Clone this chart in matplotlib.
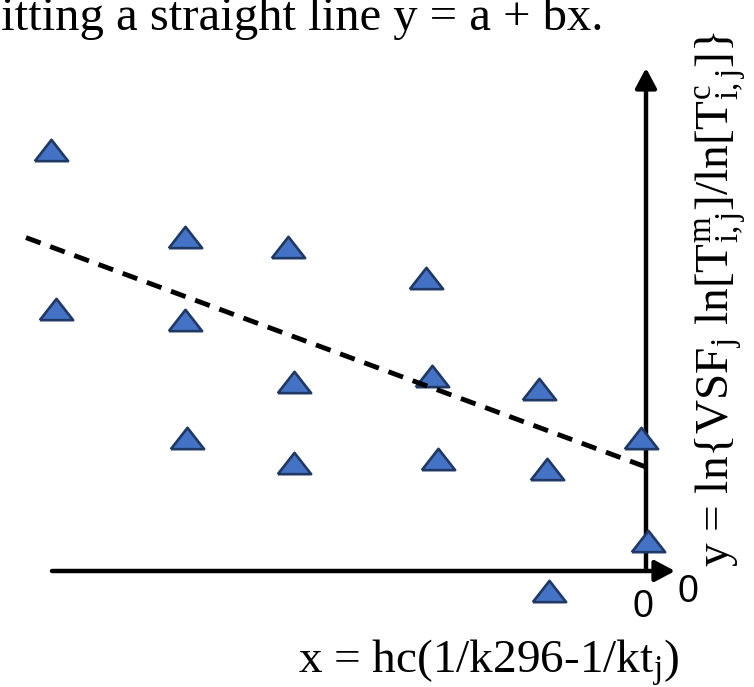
import matplotlib
matplotlib.use('Agg')
import matplotlib.pyplot as plt
import numpy as np

# ---- data (schematic units; origin at axis crossing) ----
x_vals = [-5.95, -4.61, -3.58, -2.20, -5.90, -4.61, -3.52, -2.14, -1.07,
          -4.59, -3.52, -2.08, -0.99, -0.05, 0.02, -0.97]
y_vals = [4.21, 3.34, 3.24, 2.93, 2.62, 2.51, 1.89, 1.95, 1.82,
          1.33, 1.08, 1.12, 1.02, 1.33, 0.30, -0.20]

fit_a = 1.04          # intercept
fit_b = -0.37         # slope
fit_x = [-6.20, 0.0]  # extent of fitted line

x_axis_span = [-5.94, 0.29]
y_axis_span = [0.0, 5.03]

title_text = "Fitting a straight line y = a + bx."
xlabel_text = r"x = hc(1/k296-1/kt$_\mathrm{j}$)"
ylabel_text = r"y = ln{VSF$_\mathrm{j}$ ln[T$^\mathrm{m}_\mathrm{i,j}$]/ln[T$^\mathrm{c}_\mathrm{i,j}$]}"
zero_labels = ["0", "0"]

# ---- style ----
plt.rcParams['font.family'] = ['Liberation Serif', 'DejaVu Serif']
plt.rcParams['mathtext.fontset'] = 'custom'
plt.rcParams['mathtext.rm'] = 'Liberation Serif'
plt.rcParams['mathtext.it'] = 'Liberation Serif:italic'
plt.rcParams['mathtext.bf'] = 'Liberation Serif:bold'

W, H = 754, 687
fig = plt.figure(figsize=(W / 100, H / 100), dpi=100)
ax = fig.add_axes([0, 0, 1, 1])
ax.set_xlim(-6.46, 1.08)
ax.set_ylim(-1.16, 5.71)
ax.axis('off')

arrow_kw = dict(arrowstyle='-|>,head_length=0.6,head_width=0.32',
                lw=3.2, color='black', shrinkA=0, shrinkB=0,
                mutation_scale=20)
ax.annotate('', xy=(x_axis_span[1], 0), xytext=(x_axis_span[0], 0),
            arrowprops=arrow_kw, zorder=2)
ax.annotate('', xy=(0, y_axis_span[1]), xytext=(0, y_axis_span[0]),
            arrowprops=arrow_kw, zorder=2)

# data points (flattened triangles)
tri = [(-1, -0.64), (1, -0.64), (0, 0.64), (-1, -0.64)]
ax.plot(x_vals, y_vals, ls='none', marker=tri, markersize=24,
        markerfacecolor='#4472C4', markeredgecolor='#1F3864',
        markeredgewidth=1.9, zorder=3)

# fitted line
fx = np.array(fit_x)
ax.plot(fx, fit_a + fit_b * fx, color='black', lw=3.5,
        ls=(0, (3.2, 2.1)), dash_capstyle='butt', zorder=4)

# texts
def px(x, y):
    return x / W, 1 - y / H

fig.text(*px(603, 30), title_text, fontsize=35, ha='right', va='baseline')
fig.text(*px(298, 673), xlabel_text, fontsize=34, ha='left', va='baseline')
fig.text(*px(721, 567), ylabel_text, fontsize=34, rotation=90,
         ha='center', va='bottom')
fig.text(*px(643, 617), zero_labels[0], fontsize=27, family='Liberation Sans',
         ha='center', va='baseline')
fig.text(*px(688, 602), zero_labels[1], fontsize=27, family='Liberation Sans',
         ha='center', va='baseline')

fig.savefig('out.png', dpi=100)
